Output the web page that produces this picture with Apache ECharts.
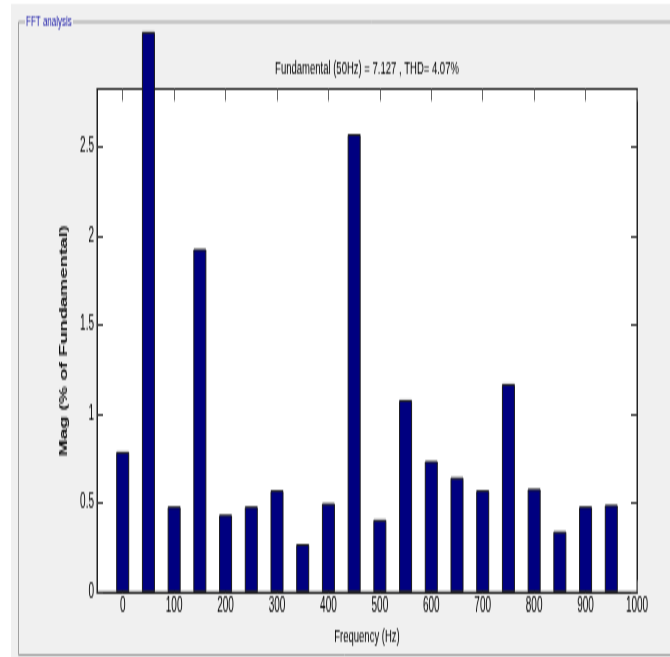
<!DOCTYPE html>
<html>
<head>
<meta charset="utf-8">
<script src="https://cdn.jsdelivr.net/npm/echarts@6/dist/echarts.min.js"></script>
<style>
html, body { margin: 0; padding: 0; background: #fff; }
#wrap { width: 670px; height: 657px; overflow: hidden; position: relative; }
/* the reference screenshot is stretched 2x vertically, so draw at half height and stretch */
#container { position: absolute; left: 0; top: 0; width: 670px; height: 328.5px; transform: scaleY(2); transform-origin: 0 0; }
</style>
</head>
<body>
<div id="wrap"><div id="container"></div></div>
<script>
var freqs = [0, 50, 100, 150, 200, 250, 300, 350, 400, 450, 500, 550, 600, 650, 700, 750, 800, 850, 900, 950];
// 50 Hz (fundamental) bar runs off the axes; its visible height is used
var mags = [0.79, 3.147, 0.483, 1.928, 0.437, 0.483, 0.574, 0.272, 0.501, 2.573, 0.409, 1.081, 0.738, 0.646, 0.574, 1.171, 0.582, 0.343, 0.483, 0.492];
var xTicks = [0, 100, 200, 300, 400, 500, 600, 700, 800, 900, 1000];
var yTicks = [0, 0.5, 1, 1.5, 2, 2.5];

var font = 'Liberation Sans, Arial, sans-serif';

var dom = document.getElementById('container');
var myChart = echarts.init(dom, null, { renderer: 'canvas' });

var option = {
    backgroundColor: '#f0f0f0',
    animation: false,
    title: {
        text: 'Fundamental (50Hz) = 7.127 , THD= 4.07%',
        left: 362,
        top: 24.5,
        textAlign: 'center',
        textStyle: { fontFamily: font, fontSize: 9.5, fontWeight: 'normal', color: '#000' }
    },
    graphic: [
        { type: 'rect', shape: { x: 0, y: 0, width: 11, height: 330 }, style: { fill: '#fff' }, silent: true },
        { type: 'rect', shape: { x: 0, y: 0, width: 670, height: 2 }, style: { fill: '#fff' }, silent: true },
        { type: 'polyline', shape: { points: [[25, 11], [18.5, 11], [18.5, 327.5], [670, 327.5]] }, style: { stroke: '#a0a0a0', lineWidth: 1, fill: null }, silent: true },
        { type: 'line', shape: { x1: 73, y1: 11, x2: 670, y2: 11 }, style: { stroke: '#a0a0a0', lineWidth: 1 }, silent: true },
        { type: 'text', x: 26, y: 11, style: { text: 'FFT analysis', fill: '#1c1ca8', font: '8px ' + font, textVerticalAlign: 'middle' }, silent: true }
    ],
    grid: {
        left: 97, right: 33, top: 44.5, bottom: 32.75,
        show: true, backgroundColor: '#fff', borderColor: '#222', borderWidth: 1
    },
    xAxis: [
        {
            type: 'value', min: -50, max: 1000, position: 'bottom',
            name: 'Frequency (Hz)', nameLocation: 'middle', nameGap: 17.5,
            nameTextStyle: { fontFamily: font, fontSize: 9.5, color: '#000' },
            axisLine: { show: true, onZero: false, lineStyle: { color: '#222' } },
            axisTick: { show: true, inside: true, length: 6, customValues: xTicks, lineStyle: { color: '#666' } },
            axisLabel: {
                customValues: xTicks, margin: 2, fontFamily: font, fontSize: 10, color: '#000',
                formatter: function (v) { return String(v); }
            },
            splitLine: { show: false }
        },
        {
            type: 'value', min: -50, max: 1000, position: 'top',
            axisLine: { show: true, onZero: false, lineStyle: { color: '#222' } },
            axisTick: { show: true, inside: true, length: 6, customValues: xTicks, lineStyle: { color: '#666' } },
            axisLabel: { show: false },
            splitLine: { show: false }
        }
    ],
    yAxis: [
        {
            type: 'value', min: 0, max: 2.826, position: 'left',
            name: 'Mag (% of Fundamental)', nameLocation: 'middle', nameGap: 18,
            nameTextStyle: { fontFamily: font, fontSize: 10, fontWeight: 'bold', color: '#111' },
            axisLine: { show: true, onZero: false, lineStyle: { color: '#222' } },
            axisTick: { show: true, inside: true, length: 6, customValues: yTicks, lineStyle: { color: '#333' } },
            axisLabel: { customValues: yTicks, margin: 3, fontFamily: font, fontSize: 10, color: '#000' },
            splitLine: { show: false }
        },
        {
            type: 'value', min: 0, max: 2.826, position: 'right',
            axisLine: { show: true, onZero: false, lineStyle: { color: '#222' } },
            axisTick: { show: true, inside: true, length: 6, customValues: yTicks, lineStyle: { color: '#333' } },
            axisLabel: { show: false },
            splitLine: { show: false }
        }
    ],
    series: [
        {
            name: 'Mag',
            type: 'bar',
            clip: false,
            barWidth: 13,
            data: freqs.map(function (f, i) { return [f, mags[i]]; }),
            itemStyle: { color: '#000080', borderColor: '#1a1a1a', borderWidth: 1 }
        }
    ]
};

myChart.setOption(option);
</script>
</body>
</html>
